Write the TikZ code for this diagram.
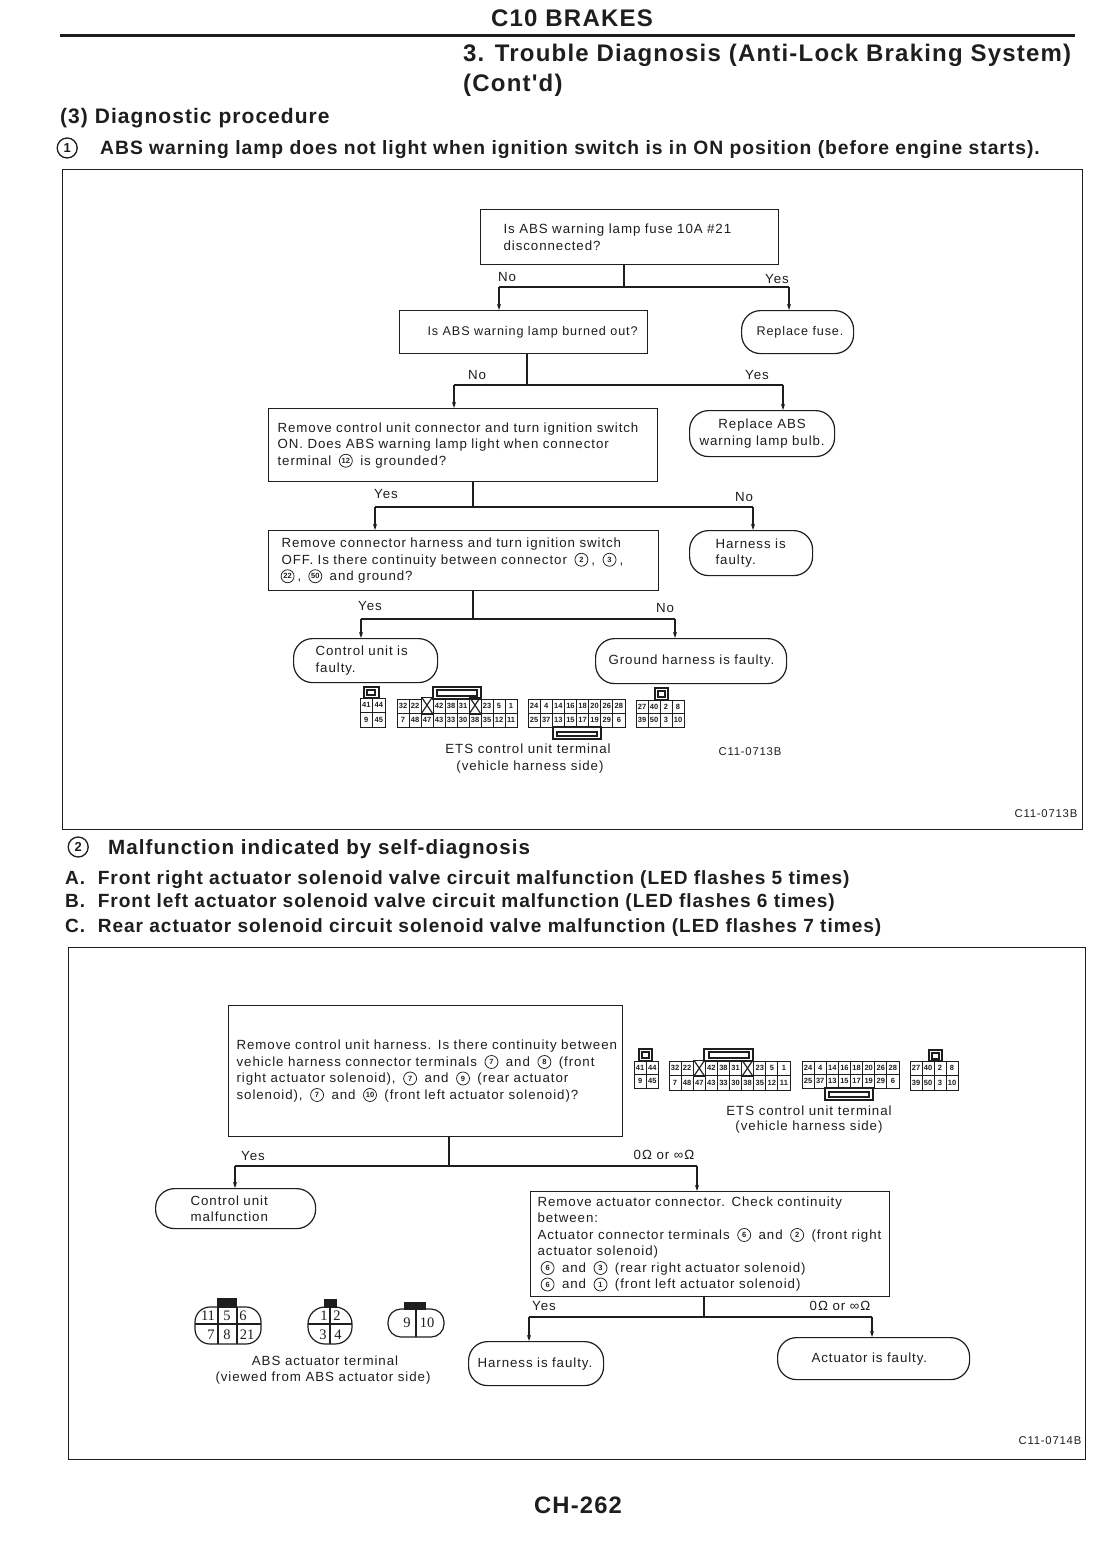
\documentclass[tikz,border=0pt]{standalone}
\usepackage{fontspec}
\usepackage{pict2e}
\setmainfont{Liberation Sans}[LetterSpace=7]
\newfontfamily\hd{Liberation Sans}[LetterSpace=5]
\newfontfamily\djv{DejaVu Sans}
\newfontfamily\srf{Liberation Serif}
\newfontfamily\cellf{Liberation Sans}
\usetikzlibrary{arrows.meta}
\definecolor{ink}{HTML}{1E1E1E}
\setlength{\unitlength}{1pt}
\newcommand\cn[1]{\begin{picture}(20,8)\linethickness{.75pt}\put(10,4.3){\circle{13}}\put(10,4.3){\makebox(0,0){\fontsize{7.5}{8}\selectfont\bfseries\cellf #1}}\end{picture}}
\newcommand\cnb[1]{\begin{picture}(20,12)\linethickness{1.3pt}\put(10,6){\circle{20}}\put(10,6){\makebox(0,0){\fontsize{13}{13}\selectfont\bfseries\cellf #1}}\end{picture}}
\newcommand\xc{\resizebox{11pt}{13pt}{\djv ╳}}
\tikzset{
  pline/.style={draw=ink,line width=1.2pt},
  arr/.style={pline,-{Stealth[length=6pt,width=4pt]}},
  txt/.style={text=ink,inner sep=0pt,font=\fontsize{13.3}{16.5}\selectfont},
  lab/.style={txt,anchor=center},
  head/.style={text=ink,inner sep=0pt,font=\fontsize{21}{24}\selectfont\bfseries\hd,anchor=west},
  sub/.style={text=ink,inner sep=0pt,font=\fontsize{19.1}{20}\selectfont\bfseries\hd,anchor=west},
  cell/.style={draw=ink,line width=.9pt,inner sep=0pt,text=ink,font=\fontsize{7.5}{8}\selectfont\bfseries\cellf},
  conn/.style={draw=ink,line width=1.1pt,fill=white},
  num/.style={text=ink,inner sep=0pt,font=\fontsize{14.5}{15}\selectfont\srf},
  code/.style={lab,font=\fontsize{11.3}{12}\selectfont},
  plain/.style={},
  term/.style={rounded corners=19pt},
}
% boxes
\newcommand\flow[8]{%
  \pgfmathsetlengthmacro\tw{(#5-#3)*1pt}\pgfmathsetlengthmacro\bh{(#6-#4)*1pt}%
  \node[pline,#2,anchor=north west,minimum width=\tw,minimum height=\bh,text width=\tw,inner xsep=0pt,inner ysep=0pt,align=left,txt] (#1) at (#3,#4) {\leftskip=#7pt\relax #8\par};}
% branch: id, source node, x of stem, y of bar, left node, left x, right node, right x
\newcommand\branch[8]{%
  \coordinate (#1s) at (#3,#4);\coordinate (#1l) at (#6,#4);\coordinate (#1r) at (#8,#4);
  \draw[pline] (#1s |- #2.south) -- (#1s);
  \draw[pline] (#1l) -- (#1r);
  \draw[arr] (#1l) -- (#1l |- #5.north);
  \draw[arr] (#1r) -- (#1r |- #7.north);}
% connector grid: id,x,y,cellw,cellh,row1,row2
\newcommand\cgrid[7]{%
  \foreach \t [count=\i from 0] in {#6}{\node[cell,minimum width=#4pt,minimum height=#5pt] (#1a\i) at ({#2+(\i+.5)*#4},{#3+.5*#5}) {\t};}
  \foreach \t [count=\i from 0] in {#7}{\node[cell,minimum width=#4pt,minimum height=#5pt] (#1b\i) at ({#2+(\i+.5)*#4},{#3+1.5*#5}) {\t};}}
% tab: outer then inner rectangle
\newcommand\ctab[8]{%
  \draw[conn] (#1,#2) rectangle (#3,#4);
  \draw[draw=ink,line width=1.2pt] (#5,#6) rectangle (#7,#8);}
\begin{document}
\begin{tikzpicture}[x=1pt,y=-1pt]
\useasboundingbox (0,0) rectangle (1095,1554);
\fill[white] (0,0) rectangle (1095,1554);
% headings
\node[head,anchor=center,font=\fontsize{24}{24}\selectfont\bfseries\hd] (t0) at (572,18) {C10 BRAKES};
\coordinate (ruleL) at (60,36);\coordinate (ruleR) at (1075,36);
\draw[draw=ink,line width=3pt] (ruleL) -- (ruleR);
\node[head,font=\fontsize{24}{24}\selectfont\bfseries\hd] (t1) at (463,55) {3. Trouble Diagnosis (Anti-Lock Braking System)};
\node[head,font=\fontsize{24}{24}\selectfont\bfseries\hd] (t2) at (463,85) {(Cont'd)};
\node[head] (t3) at (60,118) {(3) Diagnostic procedure};
\node[sub] (t4n) at (57,148) {\cnb{1}};
\node[sub,font=\fontsize{19.3}{20}\selectfont\bfseries\hd] (t4) at (100,150) {ABS warning lamp does not light when ignition switch is in ON position (before engine starts).};
% frame 1
\draw[draw=ink,line width=1pt] (62,170) rectangle (1082,829);
\flow{b1}{plain}{480}{209}{778}{264}{23}{Is ABS warning lamp fuse 10A \#21\\disconnected?}
\flow{b2}{plain}{399}{310}{647}{353}{28}{\fontsize{12.6}{16.5}\selectfont Is ABS warning lamp burned out?}
\flow{r1}{term}{741}{310}{853}{353}{15}{\fontsize{12.6}{16.5}\selectfont Replace fuse.}
\flow{b3}{plain}{268}{408}{657}{481}{9}{Remove control unit connector and turn ignition switch\\ON. Does ABS warning lamp light when connector\\terminal \cn{12} is grounded?}
\flow{r2}{term}{689}{410}{834}{456}{0}{\centering Replace ABS\\warning lamp bulb.}
\flow{b4}{plain}{268}{530}{658}{590}{13}{Remove connector harness and turn ignition switch\\OFF. Is there continuity between connector \cn{2}, \cn{3},\\\hspace*{-4pt}\cn{22},\hspace{4pt}\cn{50} and ground?}
\flow{r3}{term}{689}{530}{812}{575}{26}{Harness is\\faulty.}
\flow{r4}{term}{293}{638}{437}{682}{22}{Control unit is\\faulty.}
\flow{r5}{term}{595}{638}{786}{683}{13}{Ground harness is faulty.}
\branch{j1}{b1}{624}{287}{b2}{499}{r1}{789}
\branch{j2}{b2}{527}{385}{b3}{454}{r2}{783}
\branch{j3}{b3}{473}{507}{b4}{375}{r3}{753}
\branch{j4}{b4}{473}{619}{r4}{361}{r5}{675}
\node[lab] (l1) at (507,277) {No};
\node[lab] (l2) at (777,279) {Yes};
\node[lab] (l3) at (477,375) {No};
\node[lab] (l4) at (757,375) {Yes};
\node[lab] (l5) at (386,494) {Yes};
\node[lab] (l6) at (744,497) {No};
\node[lab] (l7) at (370,606) {Yes};
\node[lab] (l8) at (665,608) {No};
% connectors 1
\ctab{364}{687}{379}{698}{367}{690}{375}{695}
\cgrid{ca}{360}{698}{12.5}{14.5}{41,44}{9,45}
\ctab{433}{687}{481}{699}{437}{690}{477}{696}
\cgrid{cb}{397}{699}{12}{14}{32,22,\xc,42,38,31,\xc,23,5,1}{7,48,47,43,33,30,38,35,12,11}
\ctab{553}{727}{601}{739}{557}{732}{597}{736}
\cgrid{cc}{528}{699}{12.12}{14}{24,4,14,16,18,20,26,28}{25,37,13,15,17,19,29,6}
\ctab{655}{688}{668}{700}{658}{691}{665}{697}
\cgrid{cd}{636}{700}{12}{13.5}{27,40,2,8}{39,50,3,10}
\node[lab] (e1) at (528,749) {ETS control unit terminal};
\node[lab] (e2) at (530,767) {(vehicle harness side)};
\node[code] (c1) at (750,752) {C11-0713B};
\node[code] (c2) at (1046,814) {C11-0713B};
% second section
\node[sub,font=\fontsize{20.6}{24}\selectfont\bfseries\hd] (s0n) at (68,847) {\cnb{2}};
\node[sub,font=\fontsize{20.6}{24}\selectfont\bfseries\hd] (s0) at (108,849) {Malfunction indicated by self-diagnosis};
\node[sub] (sa) at (65,880) {A.\ \ Front right actuator solenoid valve circuit malfunction (LED flashes 5 times)};
\node[sub] (sb) at (65,903) {B.\ \ Front left actuator solenoid valve circuit malfunction (LED flashes 6 times)};
\node[sub] (sc) at (65,928) {C.\ \ Rear actuator solenoid circuit solenoid valve malfunction (LED flashes 7 times)};
% frame 2
\draw[draw=ink,line width=1pt] (68,947) rectangle (1085,1459);
\flow{b5}{plain}{228}{1005}{622}{1136}{8}{Remove control unit harness. Is there continuity between\\vehicle harness connector terminals \cn{7} and \cn{8} (front\\right actuator solenoid), \cn{7} and \cn{9} (rear actuator\\solenoid), \cn{7} and \cn{10} (front left actuator solenoid)?}
\flow{r6}{term}{155}{1188}{315}{1228}{35}{Control unit\\malfunction}
\flow{b6}{plain}{530}{1191}{889}{1296}{7}{Remove actuator connector. Check continuity\\between:\\Actuator connector terminals \cn{6} and \cn{2} (front right\\actuator solenoid)\\\cn{6} and \cn{3} (rear right actuator solenoid)\\\cn{6} and \cn{1} (front left actuator solenoid)}
\flow{r7}{term}{468}{1341}{603}{1385}{9}{Harness is faulty.}
\flow{r8}{term}{777}{1337}{969}{1379}{34}{Actuator is faulty.}
\branch{j5}{b5}{449}{1166}{r6}{235}{b6}{697}
\branch{j6}{b6}{704}{1317}{r7}{529}{r8}{872}
\node[lab] (l9) at (253,1156) {Yes};
\node[lab] (l10) at (664,1155) {0Ω or ∞Ω};
\node[lab] (l11) at (544,1306) {Yes};
\node[lab] (l12) at (840,1306) {0Ω or ∞Ω};
% connectors 2
\ctab{639}{1049}{652}{1061}{642}{1052}{649}{1058}
\cgrid{da}{634}{1061}{12.2}{13.5}{41,44}{9,45}
\ctab{704}{1049}{753}{1061}{709}{1052}{749}{1058}
\cgrid{db}{669}{1061}{12.1}{14.5}{32,22,\xc,42,38,31,\xc,23,5,1}{7,48,47,43,33,30,38,35,12,11}
\ctab{825}{1088}{873}{1100}{829}{1092}{869}{1097}
\cgrid{dc}{802}{1061}{12.12}{13.5}{24,4,14,16,18,20,26,28}{25,37,13,15,17,19,29,6}
\ctab{929}{1050}{942}{1061}{932}{1053}{939}{1059}
\cgrid{dd}{910}{1061}{12}{14.5}{27,40,2,8}{39,50,3,10}
\node[lab] (e3) at (809,1111) {ETS control unit terminal};
\node[lab] (e4) at (809,1127) {(vehicle harness side)};
% actuator connectors
\fill[ink] (217,1298) rectangle (237,1308);
\draw[pline,rounded corners=15pt] (195,1307) rectangle (261,1344);
\draw[pline] (195,1324) -- (261,1324) (218,1307) -- (218,1344) (237,1307) -- (237,1344);
\node[num] (n11) at (208,1316) {11};\node[num] (n5) at (227,1316) {5};\node[num] (n6) at (243,1316) {6};
\node[num] (n7) at (211,1335) {7};\node[num] (n8) at (227,1335) {8};\node[num] (n21) at (247,1335) {21};
\fill[ink] (324,1299) rectangle (337,1308);
\draw[pline,rounded corners=17pt] (308,1307) rectangle (352,1344);
\draw[pline] (308,1324) -- (352,1324) (330,1307) -- (330,1344);
\node[num] (n1) at (324,1316) {1};\node[num] (n2) at (337,1316) {2};
\node[num] (n3) at (323,1335) {3};\node[num] (n4) at (338,1335) {4};
\fill[ink] (404,1302) rectangle (426,1310);
\draw[pline,rounded corners=13pt] (388,1309) rectangle (444,1337);
\draw[pline] (416,1309) -- (416,1337);
\node[num] (n9) at (407,1323) {9};\node[num] (n10) at (427,1323) {10};
\node[lab] (e5) at (325,1361) {ABS actuator terminal};
\node[lab] (e6) at (323,1378) {(viewed from ABS actuator side)};
\node[code] (c3) at (1050,1441) {C11-0714B};
\node[head,anchor=center,font=\fontsize{23.8}{26}\selectfont\bfseries\hd] (pg) at (578,1505) {CH-262};
\end{tikzpicture}
\end{document}
